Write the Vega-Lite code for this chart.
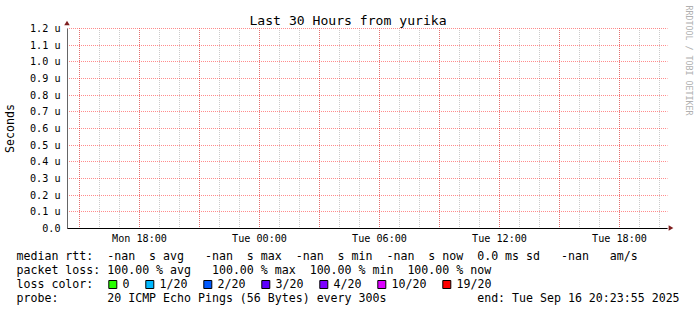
{
  "$schema": "https://vega.github.io/schema/vega-lite/v6.json",
  "width": 600,
  "height": 200,
  "autosize": {"type": "none"},
  "padding": {"left": 67, "top": 28, "right": 30, "bottom": 82},
  "background": "#ffffff",
  "config": {"view": {"stroke": null}, "font": "DejaVu Sans Mono"},
  "data": {
    "values": [
      {"time": "2025-09-15T14:25:00", "median": null, "loss": null, "ploss": 100},
      {"time": "2025-09-16T20:20:00", "median": null, "loss": null, "ploss": 100}
    ]
  },
  "layer": [
    {
      "mark": {"type": "line", "color": "#26ff00"},
      "encoding": {
        "x": {
          "field": "time",
          "type": "temporal",
          "scale": {
            "domain": [
              {"year": 2025, "month": 9, "date": 15, "hours": 14, "minutes": 23, "seconds": 55},
              {"year": 2025, "month": 9, "date": 16, "hours": 20, "minutes": 23, "seconds": 55}
            ],
            "nice": false,
            "round": true
          },
          "axis": {
            "orient": "bottom",
            "grid": false,
            "ticks": false,
            "tickSize": 0,
            "domain": true,
            "domainColor": "#000000",
            "domainWidth": 1,
            "tickCount": 5,
            "format": "%a %H:%M",
            "labelFont": "DejaVu Sans Mono",
            "labelFontSize": 10.15,
            "labelColor": "#000000",
            "labelPadding": 13.5,
            "labelBaseline": "alphabetic",
            "labelFlush": false,
            "labelOverlap": false,
            "title": [
              "median rtt:\u00a0\u00a0-nan\u00a0\u00a0s\u00a0avg\u00a0\u00a0\u00a0-nan\u00a0\u00a0s\u00a0max\u00a0\u00a0-nan\u00a0\u00a0s\u00a0min\u00a0\u00a0-nan\u00a0\u00a0s\u00a0now\u00a0\u00a00.0\u00a0ms\u00a0sd\u00a0\u00a0\u00a0-nan\u00a0\u00a0\u00a0am/s",
              "packet\u00a0loss:\u00a0100.00\u00a0%\u00a0avg\u00a0\u00a0\u00a0100.00\u00a0%\u00a0max\u00a0\u00a0100.00\u00a0%\u00a0min\u00a0\u00a0100.00\u00a0%\u00a0now",
              "loss\u00a0color:",
              "probe:\u00a0\u00a0\u00a0\u00a0\u00a0\u00a0\u00a020\u00a0ICMP\u00a0Echo\u00a0Pings\u00a0(56\u00a0Bytes)\u00a0every\u00a0300s\u00a0\u00a0\u00a0\u00a0\u00a0\u00a0\u00a0\u00a0\u00a0\u00a0\u00a0\u00a0\u00a0end:\u00a0Tue\u00a0Sep\u00a016\u00a020:23:55\u00a02025"
            ],
            "titleFont": "DejaVu Sans Mono",
            "titleFontSize": 11.6,
            "titleFontWeight": "normal",
            "titleColor": "#000000",
            "titleAnchor": "start",
            "titleAlign": "left",
            "titleBaseline": "alphabetic",
            "titleX": -51,
            "titleY": 31.5,
            "titleLineHeight": 14,
            "titleLimit": 2000,
            "zindex": 2
          }
        },
        "y": {
          "field": "median",
          "type": "quantitative",
          "scale": {"domain": [0, 1.2e-6], "nice": false, "round": true},
          "axis": {
            "orient": "left",
            "values": [0, 1e-7, 2e-7, 3e-7, 4e-7, 5e-7, 6e-7, 7e-7, 8e-7, 9e-7, 1e-6, 1.1e-6, 1.2e-6],
            "labelExpr": "datum.value == 0 ? '0.0' : format(datum.value * 1e6, '.1f') + ' u'",
            "grid": true,
            "gridColor": "#ff0000",
            "gridOpacity": 0.45,
            "gridDash": [1, 1],
            "gridDashOffset": 0.5,
            "ticks": false,
            "tickSize": 0,
            "domainColor": "#666666",
            "labelFont": "DejaVu Sans Mono",
            "labelFontSize": 10.15,
            "labelColor": "#000000",
            "labelPadding": 7,
            "labelBaseline": "middle",
            "labelAlign": "right",
            "title": "Seconds",
            "titleFont": "DejaVu Sans Mono",
            "titleFontSize": 11.6,
            "titleFontWeight": "normal",
            "titleColor": "#000000",
            "titleAngle": -90,
            "titleX": -54,
            "titleY": 100,
            "titleAlign": "center",
            "titleBaseline": "alphabetic",
            "zindex": 1
          }
        }
      }
    },
    {
      "mark": {"type": "line"},
      "encoding": {
        "x": {
          "field": "time",
          "type": "temporal",
          "axis": {
            "orient": "bottom",
            "grid": true,
            "gridColor": "#8f8f8f",
            "gridOpacity": 0.45,
            "gridDash": [1, 1],
            "gridDashOffset": 0.5,
            "tickCount": 30,
            "labels": false,
            "ticks": false,
            "domain": false,
            "title": null,
            "zindex": 0
          }
        },
        "y": {
          "field": "median",
          "type": "quantitative",
          "axis": {
            "orient": "right",
            "grid": false,
            "labels": false,
            "ticks": false,
            "domain": false,
            "title": "RRDTOOL / TOBI OETIKER",
            "titleFont": "DejaVu Sans Mono",
            "titleFontSize": 8.3,
            "titleFontWeight": "normal",
            "titleColor": "#b0b0b0",
            "titleAngle": 90,
            "titleAlign": "left",
            "titleBaseline": "alphabetic",
            "titleX": 18,
            "titleY": -23,
            "titleLimit": 1000
          }
        }
      }
    },
    {
      "mark": {"type": "line"},
      "encoding": {
        "x": {
          "field": "time",
          "type": "temporal",
          "axis": {
            "orient": "bottom",
            "grid": true,
            "gridColor": "#ff0000",
            "gridOpacity": 0.45,
            "gridDash": [1, 1],
            "gridDashOffset": 0.5,
            "tickCount": 10,
            "labels": false,
            "ticks": false,
            "domain": false,
            "title": null,
            "zindex": 1
          }
        },
        "y": {"field": "median", "type": "quantitative", "axis": null}
      }
    },
    {
      "mark": {"type": "square", "filled": true, "stroke": "#000000", "strokeWidth": 1, "size": 64, "opacity": 1},
      "encoding": {
        "x": {
          "field": "time",
          "type": "temporal",
          "axis": {
            "orient": "top",
            "grid": false,
            "labels": false,
            "ticks": false,
            "domain": false,
            "title": "Last 30 Hours from yurika",
            "titleFont": "DejaVu Sans Mono",
            "titleFontSize": 13.1,
            "titleFontWeight": "normal",
            "titleColor": "#000000",
            "titleX": 280.5,
            "titleY": -4,
            "titleAlign": "center",
            "titleBaseline": "alphabetic"
          }
        },
        "y": {"field": "median", "type": "quantitative", "axis": null},
        "color": {
          "field": "loss",
          "type": "nominal",
          "scale": {
            "domain": ["0", "1/20", "2/20", "3/20", "4/20", "10/20", "19/20"],
            "range": ["#26ff00", "#00b8ff", "#0059ff", "#5e00ff", "#7e00ff", "#dd00ff", "#ff0000"]
          },
          "legend": {
            "orient": "none",
            "legendX": 40,
            "legendY": 250.7,
            "direction": "horizontal",
            "title": null,
            "gridAlign": "none",
            "labelFont": "DejaVu Sans Mono",
            "labelFontSize": 11.6,
            "labelColor": "#000000",
            "labelOffset": 4,
            "columnPadding": 13,
            "symbolType": "square",
            "symbolSize": 64,
            "symbolStrokeColor": "#000000",
            "symbolStrokeWidth": 1,
            "padding": 0
          }
        }
      }
    },
    {
      "data": {"values": [{"at": "2025-09-15T14:23:55", "top": 1.227e-6}]},
      "mark": {"type": "point", "shape": "triangle-up", "filled": true, "color": "#7f1f1f", "size": 30, "opacity": 1},
      "encoding": {
        "x": {"field": "at", "type": "temporal", "axis": null},
        "y": {"field": "top", "type": "quantitative", "axis": null}
      }
    },
    {
      "data": {"values": [{"at": "2025-09-16T20:35:55", "top": 0}]},
      "mark": {"type": "point", "shape": "triangle-right", "filled": true, "color": "#7f1f1f", "size": 30, "opacity": 1},
      "encoding": {
        "x": {"field": "at", "type": "temporal", "axis": null},
        "y": {"field": "top", "type": "quantitative", "axis": null}
      }
    }
  ],
  "resolve": {"axis": {"x": "independent", "y": "independent"}}
}
